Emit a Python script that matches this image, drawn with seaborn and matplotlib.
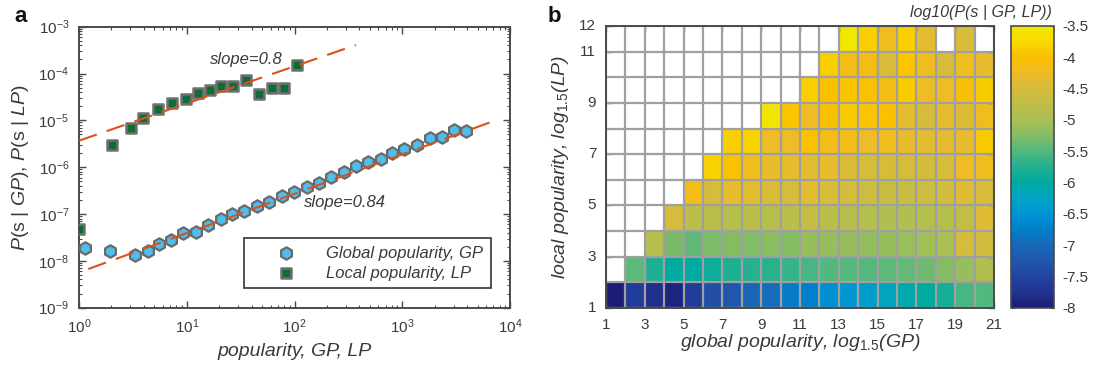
import numpy as np
import pandas as pd
import matplotlib
matplotlib.use("Agg")
import matplotlib.pyplot as plt
import seaborn as sns
from matplotlib.colors import LinearSegmentedColormap
from matplotlib.ticker import LogLocator, NullFormatter, FixedLocator

# ---------------- data: panel a ----------------
gp_x = [1.137, 1.94, 3.31, 4.34, 5.48, 7.1, 9.29, 12.2, 15.9, 20.6, 26.5, 34.3, 44.7, 58.5,
        77.3, 99.1, 131, 167, 217, 285, 372, 484, 635, 809, 1038, 1361, 1810, 2355, 3022, 3906]
gp_y = [1.85e-8, 1.65e-8, 1.33e-8, 1.65e-8, 2.29e-8, 2.79e-8, 3.87e-8, 4.2e-8, 5.83e-8, 7.8e-8,
        9.9e-8, 1.18e-7, 1.48e-7, 1.83e-7, 2.46e-7, 2.95e-7, 3.72e-7, 4.67e-7, 6.27e-7, 7.78e-7,
        1.06e-6, 1.31e-6, 1.47e-6, 1.98e-6, 2.44e-6, 2.98e-6, 4.14e-6, 4.48e-6, 6.2e-6, 6.0e-6]
lp_x = [1.0, 2.01, 3.04, 3.95, 5.45, 7.34, 9.77, 12.6, 16.4, 20.8, 27.1, 35.5, 46.9, 61.4, 80.0, 106]
lp_y = [4.7e-8, 2.98e-6, 6.76e-6, 1.14e-5, 1.72e-5, 2.38e-5, 2.86e-5, 3.9e-5, 4.45e-5, 5.42e-5,
        5.42e-5, 7.28e-5, 3.6e-5, 4.83e-5, 4.83e-5, 1.52e-4]
fit_lp_x = [1.0, 372.0]
fit_lp_y = [3.68e-6, 4.06e-4]
fit_gp_x = [1.22, 7000.0]
fit_gp_y = [6.7e-9, 9.6e-6]
slope_labels = ["slope=0.8", "slope=0.84"]
legend_labels = ["Global popularity, GP", "Local popularity, LP"]

# ---------------- data: panel b ----------------
nan = np.nan
gp_bins = list(range(1, 21))
lp_bins = list(range(1, 12))
lp_row1 = [-8.0, -7.6, -7.8, -7.9, -7.6, -7.35, -7.25, -7.05, -6.95, -6.8,
           -6.75, -6.55, -6.45, -6.35, -6.2, -6.1, -6.0, -5.85, -5.55, -5.5]
lp_row2 = [nan, -5.45, -5.8, -6.0, -6.0, -5.9, -5.8, -5.75, -5.72, -5.65,
           -5.55, -5.5, -5.48, -5.47, -5.45, -5.4, -5.35, -5.25, -5.12, -4.9]
lp_row3 = [nan, nan, -4.85, -5.3, -5.42, -5.28, -5.25, -5.27, -5.22, -5.25,
           -5.12, -5.12, -5.12, -5.15, -5.12, -5.1, -5.05, -4.98, -4.5, -4.55]
lp_row4 = [nan, nan, nan, -4.5, -4.8, -4.8, -4.85, -4.8, -4.85, -4.8,
           -4.7, -4.8, -4.85, -4.88, -4.92, -4.92, -4.88, -4.85, -4.75, -4.4]
lp_row5 = [nan, nan, nan, nan, -4.15, -4.5, -4.3, -4.35, -4.45, -4.5,
           -4.35, -4.45, -4.5, -4.6, -4.65, -4.65, -4.6, -4.55, -4.4, -4.45]
lp_row6 = [nan, nan, nan, nan, nan, -3.82, -4.0, -4.2, -4.3, -4.3,
           -4.35, -4.3, -4.45, -4.5, -4.48, -4.5, -4.55, -4.5, -4.25, -4.2]
lp_row7 = [nan, nan, nan, nan, nan, nan, -3.85, -3.8, -4.25, -4.25,
           -4.0, -4.15, -4.15, -4.25, -4.2, -4.3, -4.35, -4.35, -4.3, -3.9]
lp_row8 = [nan, nan, nan, nan, nan, nan, nan, nan, -3.55, -3.95,
           -4.25, -4.0, -3.9, -3.97, -4.0, -4.35, -4.5, -4.35, -4.42, -4.2]
lp_row9 = [nan, nan, nan, nan, nan, nan, nan, nan, nan, nan,
           -3.85, -4.0, -3.97, -4.0, -4.15, -3.88, -4.25, -4.25, -4.05, -3.88]
lp_row10 = [nan, nan, nan, nan, nan, nan, nan, nan, nan, nan,
            nan, -3.85, -4.15, -4.15, -4.45, -3.97, -4.2, -4.5, -4.2, -4.3]
lp_row11 = [nan, nan, nan, nan, nan, nan, nan, nan, nan, nan,
            nan, nan, -3.5, -3.85, -4.2, -3.85, -4.35, nan, -4.45, nan]
heat_xticklabels = ["1", "3", "5", "7", "9", "11", "13", "15", "17", "19", "21"]
heat_yticklabels = ["1", "3", "5", "7", "9", "11", "12"]
cbar_ticks = [-8, -7.5, -7, -6.5, -6, -5.5, -5, -4.5, -4, -3.5]

# colormap anchors (value, colour)
cmap_vals = [-8.0, -7.75, -7.5, -7.25, -7.0, -6.75, -6.5, -6.25, -6.0, -5.75,
             -5.5, -5.25, -5.0, -4.75, -4.5, -4.25, -4.0, -3.75, -3.5]
cmap_cols = ["#1c1c74", "#203490", "#2244a0", "#2058ac", "#1868b8", "#0080cc", "#0094d4",
             "#00a4c4", "#00aaa0", "#24b090", "#50b880", "#84bc64", "#a8c054", "#c0be48",
             "#d4bc3c", "#ecbc28", "#fbbf00", "#f8d800", "#f0e800"]

# ---------------- style ----------------
sns.set_theme(style="ticks")
plt.rcParams['font.family'] = ['Liberation Sans', 'DejaVu Sans']
plt.rcParams['mathtext.fontset'] = 'custom'
plt.rcParams['mathtext.rm'] = 'Liberation Sans'
plt.rcParams['mathtext.it'] = 'Liberation Sans:italic'
TXT = '#3a3a3a'
SP = '#4a4a4a'
plt.rcParams['text.color'] = TXT
plt.rcParams['axes.labelcolor'] = TXT
plt.rcParams['xtick.color'] = SP
plt.rcParams['ytick.color'] = SP
plt.rcParams['xtick.labelcolor'] = TXT
plt.rcParams['ytick.labelcolor'] = TXT

fig = plt.figure(figsize=(10.93, 3.67), dpi=100)

# ---------------- panel a ----------------
ax = fig.add_axes([0.0723, 0.1616, 0.3943, 0.7657])
ax.set_xscale('log')
ax.set_yscale('log')
sns.scatterplot(x=gp_x, y=gp_y, ax=ax, marker='h', s=80, color='#4DBEEE',
                edgecolor='#6a6a6a', linewidth=1.6, label=legend_labels[0], zorder=3)
sns.scatterplot(x=lp_x, y=lp_y, ax=ax, marker='s', s=55, color='#0a6e36',
                edgecolor='#707070', linewidth=1.8, label=legend_labels[1], zorder=3)
sns.lineplot(x=fit_lp_x, y=fit_lp_y, ax=ax, color='#D95319', lw=1.5,
             linestyle=(0, (9, 5)), zorder=4, label='_nolegend_')
sns.lineplot(x=fit_gp_x, y=fit_gp_y, ax=ax, color='#D95319', lw=1.5,
             linestyle=(0, (9, 5)), zorder=4, label='_nolegend_')
ax.set_xlim(1, 1e4)
ax.set_ylim(1e-9, 1e-3)
ax.xaxis.set_major_locator(LogLocator(base=10, numticks=10))
ax.yaxis.set_major_locator(LogLocator(base=10, numticks=10))
ax.xaxis.set_minor_locator(LogLocator(base=10, subs=np.arange(2, 10), numticks=50))
ax.yaxis.set_minor_locator(LogLocator(base=10, subs=np.arange(2, 10), numticks=50))
ax.xaxis.set_minor_formatter(NullFormatter())
ax.yaxis.set_minor_formatter(NullFormatter())
ax.tick_params(which='both', direction='in', top=True, right=True, labelsize=11)
ax.tick_params(which='major', length=5, width=1.0, pad=7)
ax.tick_params(which='minor', length=2.5, width=0.8)
for s in ax.spines.values():
    s.set_color(SP)
    s.set_linewidth(1.4)
ax.text(35.5, 1.95e-4, slope_labels[0], ha='center', va='center', style='italic', fontsize=12)
ax.text(294, 1.72e-7, slope_labels[1], ha='center', va='center', style='italic', fontsize=12)
ax.set_xlabel('popularity, GP, LP', style='italic', fontsize=14)
ax.set_ylabel(r'$\mathit{P}$(s | $\mathit{GP}$), $\mathit{P}$(s | $\mathit{LP}$)', fontsize=14)
ax.xaxis.set_label_coords(0.5, -0.125)
ax.yaxis.set_label_coords(-0.112, 0.5)
leg = ax.legend(loc='lower right', bbox_to_anchor=(0.955, 0.07), fancybox=False,
                framealpha=1, edgecolor='#333333', handlelength=4.2, handletextpad=0.3,
                borderpad=0.45, labelspacing=0.3, borderaxespad=0,
                prop={'style': 'italic', 'size': 12})
leg.get_frame().set_linewidth(1.2)
for t in leg.get_texts():
    t.set_color(TXT)

# ---------------- panel b ----------------
heat = pd.DataFrame([lp_row1, lp_row2, lp_row3, lp_row4, lp_row5, lp_row6, lp_row7,
                     lp_row8, lp_row9, lp_row10, lp_row11], index=lp_bins, columns=gp_bins)
pos = [(v - cmap_vals[0]) / (cmap_vals[-1] - cmap_vals[0]) for v in cmap_vals]
cmap = LinearSegmentedColormap.from_list('parula_like', list(zip(pos, cmap_cols)))

axh = fig.add_axes([0.5544, 0.1608, 0.355, 0.7684])
cax = fig.add_axes([0.925, 0.1608, 0.0393, 0.7692])
sns.heatmap(heat, ax=axh, cmap=cmap, vmin=-8, vmax=-3.5, cbar_ax=cax,
            mask=heat.isna(), cbar_kws={'ticks': cbar_ticks})
axh.invert_yaxis()
axh.set_facecolor('white')
axh.set_xticks(np.arange(0, 21, 2))
axh.set_xticklabels(heat_xticklabels, rotation=0)
axh.set_yticks([0, 2, 4, 6, 8, 10, 11])
axh.set_yticklabels(heat_yticklabels, rotation=0)
axh.xaxis.remove_overlapping_locs = False
axh.yaxis.remove_overlapping_locs = False
axh.xaxis.set_minor_locator(FixedLocator(np.arange(0, 21)))
axh.yaxis.set_minor_locator(FixedLocator(np.arange(0, 12)))
axh.grid(False, which='major')
axh.grid(True, which='minor', color='#a0a0a0', lw=1.6)
axh.set_axisbelow(False)
axh.tick_params(which='major', direction='in', length=4, width=1.0, top=True, right=True,
                bottom=True, left=True, labelsize=11, pad=7)
axh.tick_params(which='minor', length=0)
for s in axh.spines.values():
    s.set_visible(True)
    s.set_color(SP)
    s.set_linewidth(1.4)
    s.set_zorder(5)
axh.set_xlabel(r'global popularity, log$_{\mathit{1.5}}$(GP)', style='italic', fontsize=14)
axh.set_ylabel(r'local popularity, log$_{\mathit{1.5}}$(LP)', style='italic', fontsize=14)
axh.xaxis.set_label_coords(0.5, -0.085)
axh.yaxis.set_label_coords(-0.09, 0.5)

cax.tick_params(direction='in', length=3, width=0.8, labelsize=11, pad=6, right=True, left=True)
cax.set_yticklabels([f"{t:g}" for t in cbar_ticks])
cb = axh.collections[0].colorbar
cb.outline.set_visible(True)
cb.outline.set_linewidth(1.2)
cb.outline.set_edgecolor(SP)

fig.text(0.962, 0.965, 'log10(P(s | GP, LP))', ha='right', va='center', style='italic', fontsize=11.5)
fig.text(0.013, 0.955, 'a', fontsize=16, fontweight='bold', va='center', color='#111111')
fig.text(0.501, 0.955, 'b', fontsize=16, fontweight='bold', va='center', color='#111111')

fig.savefig('out.png', dpi=100)
